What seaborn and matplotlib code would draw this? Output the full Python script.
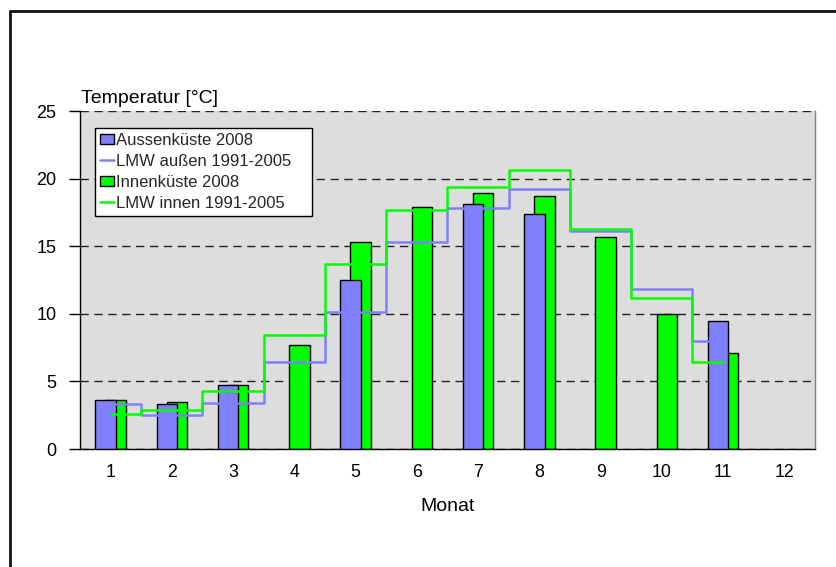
import numpy as np
import pandas as pd
import matplotlib
matplotlib.use("Agg")
import matplotlib.pyplot as plt
from matplotlib.patches import Patch
from matplotlib.lines import Line2D
import seaborn as sns

# ---- data ----
months = list(range(1, 13))
aussen_2008 = [3.6, 3.3, 4.7, None, 12.5, None, 18.1, 17.4, None, None, 9.5, None]
innen_2008 = [3.6, 3.5, 4.7, 7.7, 15.3, 17.9, 18.9, 18.7, 15.7, 10.0, 7.1, None]
lmw_months = list(range(1, 12))
lmw_aussen = [3.3, 2.5, 3.4, 6.4, 10.1, 15.3, 17.8, 19.2, 16.1, 11.8, 8.0]
lmw_innen = [2.6, 2.9, 4.3, 8.4, 13.7, 17.7, 19.4, 20.6, 16.3, 11.2, 6.4]
yticks = [0, 5, 10, 15, 20, 25]

labels = ["Aussenküste 2008", "LMW außen 1991-2005", "Innenküste 2008", "LMW innen 1991-2005"]
c_blue = "#8080FF"
c_green = "#00FF00"

sns.set_theme(style="white")
plt.rcParams["font.family"] = ["Liberation Sans", "DejaVu Sans"]

fig = plt.figure(figsize=(8.37, 5.67), dpi=100)
ax = fig.add_axes([80 / 837, 1 - 449 / 567, 735 / 837, 338 / 567])
ax.set_facecolor("#DDDDDD")

bw = 0.335
off = 0.083
df_a = pd.DataFrame({"m": months, "v": aussen_2008}).dropna()
df_i = pd.DataFrame({"m": months, "v": innen_2008}).dropna()
df_a["x"] = df_a["m"] - off
df_i["x"] = df_i["m"] + off

sns.barplot(data=df_i, x="x", y="v", native_scale=True, width=bw, color=c_green,
            saturation=1, edgecolor="black", linewidth=1.0, ax=ax, zorder=2, errorbar=None)
sns.barplot(data=df_a, x="x", y="v", native_scale=True, width=bw, color=c_blue,
            saturation=1, edgecolor="black", linewidth=1.0, ax=ax, zorder=3, errorbar=None)

df_la = pd.DataFrame({"m": lmw_months, "v": lmw_aussen})
df_li = pd.DataFrame({"m": lmw_months, "v": lmw_innen})
sns.lineplot(data=df_la, x="m", y="v", color=c_blue, linewidth=1.8, drawstyle="steps-mid",
             ax=ax, zorder=4, errorbar=None)
sns.lineplot(data=df_li, x="m", y="v", color=c_green, linewidth=1.8, drawstyle="steps-mid",
             ax=ax, zorder=4, errorbar=None)

ax.set_xlim(0.5, 12.5)
ax.set_ylim(0, 25)
ax.set_xticks(months)
ax.set_xticklabels([str(m) for m in months])
ax.set_yticks(yticks)
ax.set_yticklabels([str(t) for t in yticks])
ax.yaxis.grid(True, color="#222222", linestyle=(0, (6, 4)), linewidth=1.0)
ax.xaxis.grid(False)
ax.set_axisbelow(True)

ax.spines["top"].set_visible(False)
ax.spines["right"].set_color("#808080")
ax.spines["right"].set_linewidth(1.0)
ax.spines["left"].set_color("black")
ax.spines["left"].set_linewidth(1.0)
ax.spines["bottom"].set_color("black")
ax.spines["bottom"].set_linewidth(1.0)

ax.tick_params(axis="y", which="both", left=True, length=8, width=1, color="black",
               pad=9, labelsize=13, labelcolor="black")
ax.tick_params(axis="x", length=0, pad=11, labelsize=12.8, labelcolor="black")

ax.set_xlabel("Monat", fontsize=14, labelpad=12, color="black")
ax.set_ylabel("")
ax.text(0.002, 1 + 8 / 338, "Temperatur [°C]", transform=ax.transAxes, ha="left",
        va="baseline", fontsize=14, color="black")

handles = [
    Patch(facecolor=c_blue, edgecolor="black", linewidth=1.0),
    Line2D([0], [0], color=c_blue, linewidth=1.8),
    Patch(facecolor=c_green, edgecolor="black", linewidth=1.0),
    Line2D([0], [0], color=c_green, linewidth=1.8),
]
leg_top = 1 - 17 / 338
leg = ax.legend(handles, labels, loc="upper left",
                bbox_to_anchor=(15 / 735, leg_top - 0.01, 217 / 735, 0.01), mode="expand",
                borderaxespad=0, frameon=True, fancybox=False, edgecolor="black",
                facecolor="white", framealpha=1, fontsize=12, handlelength=0.85,
                handleheight=0.6, handletextpad=0.12, labelspacing=0.36, borderpad=0.3)
leg.get_frame().set_linewidth(1.0)
leg.set_zorder(10)

# outer chart frame (left and top edges visible)
fig.add_artist(Line2D([10 / 837, 10 / 837], [0, 1 - 11 / 567], transform=fig.transFigure,
                      color="#111111", linewidth=2))
fig.add_artist(Line2D([10 / 837, 1], [1 - 11 / 567, 1 - 11 / 567], transform=fig.transFigure,
                      color="#111111", linewidth=2))

fig.savefig("out.png", dpi=100, facecolor="white")
